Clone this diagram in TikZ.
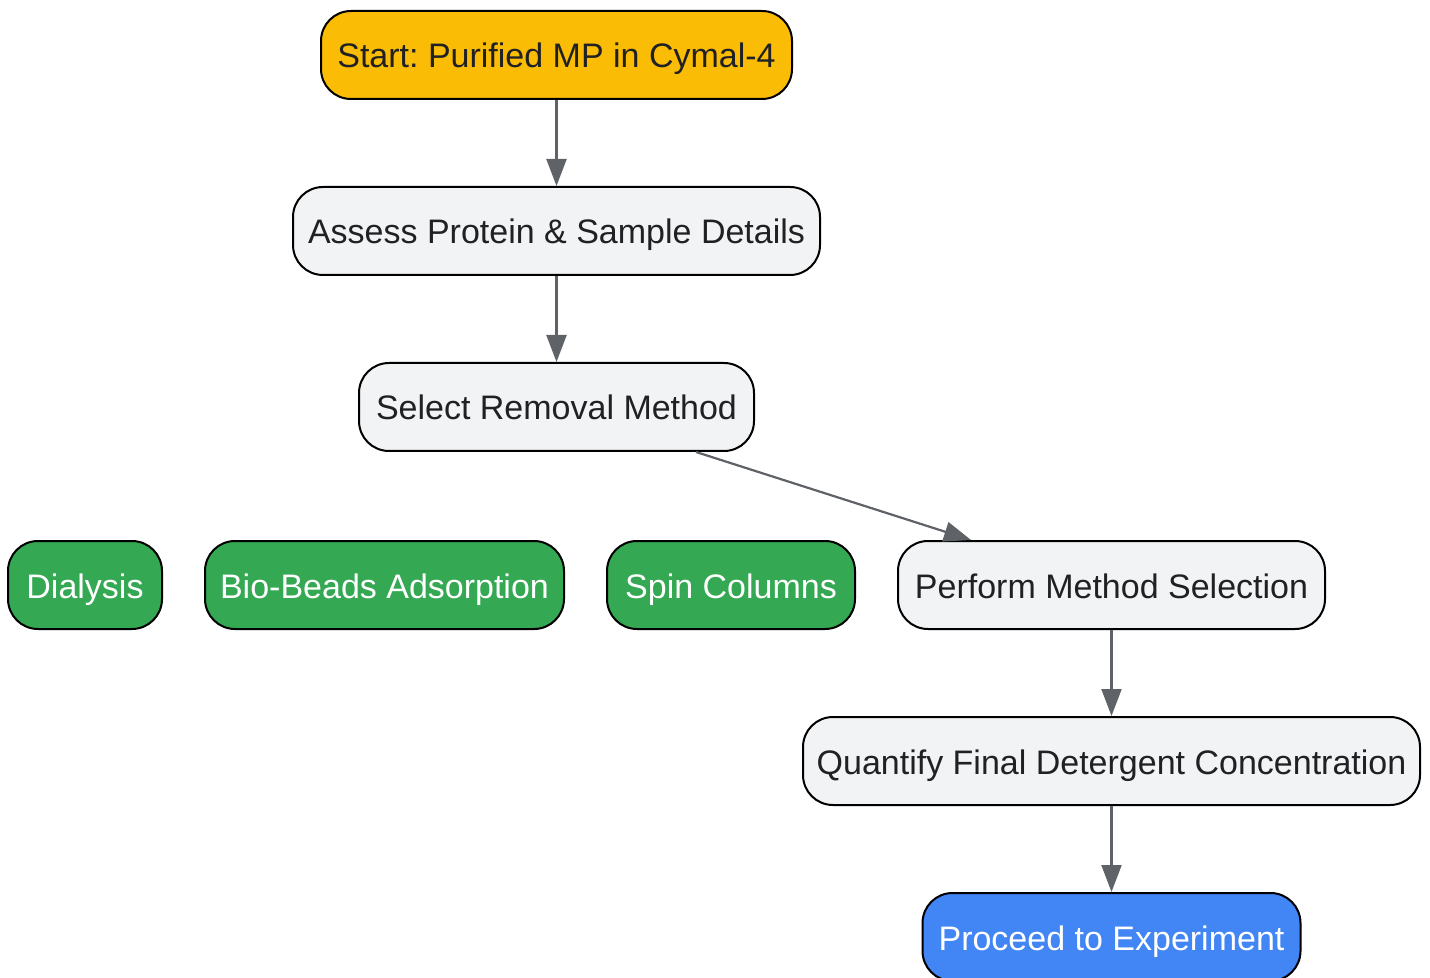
\documentclass[tikz,border=0pt]{standalone}
\usepackage{fontspec}
\setmainfont{Liberation Sans}
\usepackage{xcolor}
\usetikzlibrary{arrows.meta,positioning}
\definecolor{startyellow}{HTML}{FBBC05}
\definecolor{stepgray}{HTML}{F1F3F4}
\definecolor{methodgreen}{HTML}{34A853}
\definecolor{endblue}{HTML}{4285F4}
\definecolor{textdark}{HTML}{202124}
\definecolor{arrowgray}{HTML}{5F6368}
\frenchspacing
\begin{document}
\begin{tikzpicture}[
      x=0.5pt,y=-0.5pt,
      box_base/.style={
         rectangle,
         rounded corners=15pt,
         draw=black,
         line width=1pt,
         inner xsep=4pt,
         inner ysep=0pt,
         text height=16.4pt,
         text depth=3.4pt,
         minimum height=44pt,
         font=\fontsize{17}{20}\selectfont},
      box_start/.style={
         box_base,
         fill=startyellow,
         text=textdark},
      box_step/.style={
         box_base,
         fill=stepgray,
         text=textdark},
      box_method/.style={
         box_base,
         fill=methodgreen,
         text=white},
      box_end/.style={
         box_base,
         fill=endblue,
         text=white},
      arrow_gray/.style={
         -{Triangle[length=13.5pt,width=10pt]},
         line width=1.1pt,
         draw=arrowgray,
         }
]
      \useasboundingbox (0,0) rectangle (1430,978);
      %start
      \node[box_start,minimum width=235.5pt] (start) at (556.5,55) {Start: Purified MP in Cymal-4};
      \node[box_step,minimum width=263.5pt,below=43pt of start] (assess) {Assess Protein \& Sample Details};
      \node[box_step,minimum width=197.5pt,below=43pt of assess] (select) {Select Removal Method};

      %methods
      \node[box_step,minimum width=213.5pt] (perform) at (1111.5,585) {Perform Method Selection};
      \node[box_method,minimum width=124pt,left=20.5pt of perform] (spin) {Spin Columns};
      \node[box_method,minimum width=179.5pt,left=20.5pt of spin] (beads) {Bio-Beads Adsorption};
      \node[box_method,minimum width=77pt,left=20.5pt of beads] (dialysis) {Dialysis};

      %end
      \node[box_step,minimum width=308.5pt,below=43pt of perform] (quantify) {Quantify Final Detergent Concentration};
      \node[box_end,minimum width=189pt,below=43pt of quantify] (proceed) {Proceed to Experiment};

    \foreach \i/\j in {% start node/end node
      start/assess,
      assess/select,
      perform/quantify,
      quantify/proceed}
      \draw [arrow_gray] (\i) -- (\j);

      \draw [arrow_gray] ([xshift=-29.5pt]select.south east) -- ([xshift=37pt]perform.north west);
\end{tikzpicture}
\end{document}
